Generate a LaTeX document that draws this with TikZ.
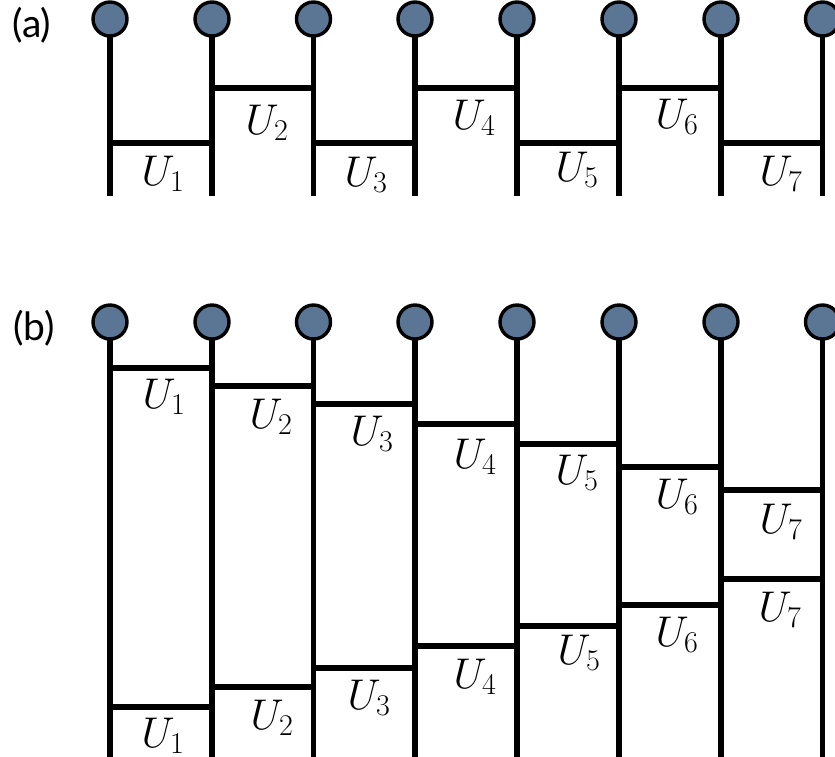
\RequirePackage{fix-cm}
\documentclass[tikz,border=0pt]{standalone}
\usepackage{fontspec}
\newfontfamily\labfont{Lato}
\definecolor{qubitc}{HTML}{5B7594}
\begin{document}
\begin{tikzpicture}[x=1pt,y=-1pt,
 qubit/.style={circle, draw=black, line width=3.4pt, fill=qubitc, minimum size=34pt, inner sep=0pt},
 wire/.style={line width=5.2pt},
 gate/.style={line width=5.2pt},
 gatelab/.style={font=\fontsize{43}{51}\selectfont, inner sep=0pt},
 panel/.style={font=\labfont\fontsize{39}{46}\selectfont, inner sep=0pt}]
\useasboundingbox (0,0) rectangle (835,756);
\clip (0,0) rectangle (835,756);
% panel labels
\node[panel] (la) at (32,25) {(a)};
\node[panel] (lb) at (34,328) {(b)};
% ---------- (a) ----------
\foreach \x [count=\i] in {110,212,313.5,415,517,619,721,822.5}{
  \coordinate (aw\i) at (\x,196);
  \draw[wire] (\x,19) -- (aw\i);
  \node[qubit] (aq\i) at (\x,19) {};
}
\foreach \i/\j/\y in {1/2/143,2/3/88,3/4/143,4/5/88,5/6/143,6/7/88,7/8/143}{
  \coordinate (ga\i l) at (aw\i |- 0,\y);
  \coordinate (ga\i r) at (aw\j |- 0,\y);
  \draw[gate] (ga\i l) -- (ga\i r);
}
\foreach \i/\x/\y in {1/163/174,2/267/123,3/366/175,4/474/118,5/577/170,6/677/117,7/781/174}{
  \node[gatelab] (la\i) at (\x,\y) {$U_{\i}$};
}
% ---------- (b) ----------
\foreach \x [count=\i] in {110,212,313.5,415,517,619,721,822.5}{
  \coordinate (bw\i) at (\x,760);
  \draw[wire] (\x,322) -- (bw\i);
  \node[qubit] (bq\i) at (\x,322) {};
}
\foreach \i/\j/\y/\z in {1/2/368/707,2/3/386/687,3/4/404/668,4/5/424/646,5/6/444/626,6/7/467/605,7/8/490/579}{
  \coordinate (gt\i l) at (bw\i |- 0,\y);
  \coordinate (gt\i r) at (bw\j |- 0,\y);
  \draw[gate] (gt\i l) -- (gt\i r);
  \coordinate (gb\i l) at (bw\i |- 0,\z);
  \coordinate (gb\i r) at (bw\j |- 0,\z);
  \draw[gate] (gb\i l) -- (gb\i r);
}
\foreach \i/\x/\y in {1/164/397,2/271/417,3/372/434,4/475/457,5/577/473,6/677/497,7/781/522}{
  \node[gatelab] (lbt\i) at (\x,\y) {$U_{\i}$};
}
\foreach \i/\x/\y in {1/163/736,2/272/718,3/369/698,4/475/677,5/579/653,6/677/635,7/780/610}{
  \node[gatelab] (lbb\i) at (\x,\y) {$U_{\i}$};
}
\end{tikzpicture}
\end{document}
